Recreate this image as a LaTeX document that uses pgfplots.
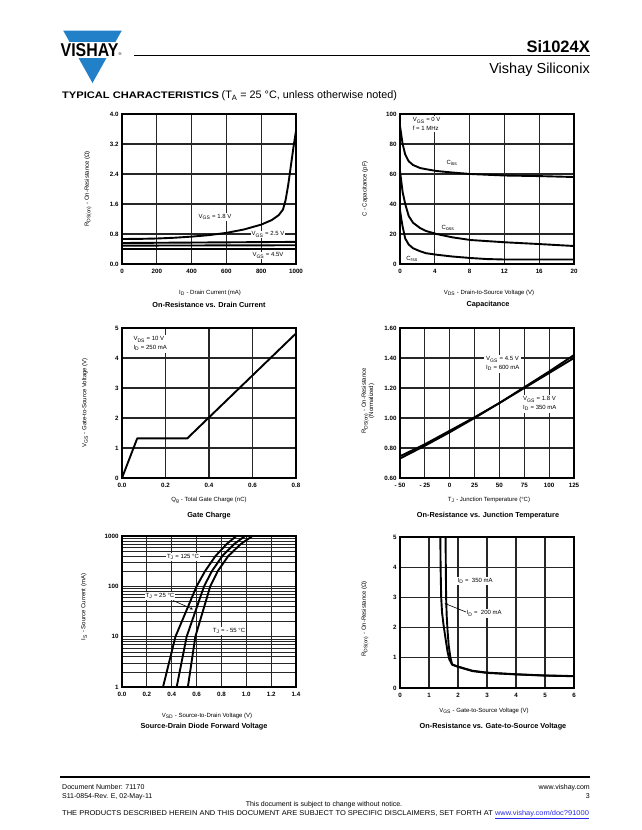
\documentclass[border=0pt]{standalone}
\usepackage{fontspec}
\setmainfont{Liberation Sans}
\usepackage{pgfplots}
\pgfplotsset{compat=1.18}
\usetikzlibrary{arrows.meta}
\definecolor{vblue}{RGB}{33,128,200}
\definecolor{linkblue}{RGB}{40,40,230}
\newcommand{\sub}[1]{\textsubscript{#1}}
\newcommand{\tk}{\fontsize{6.2}{7}\selectfont\bfseries}
\newcommand{\lb}{\fontsize{6}{8.5}\selectfont}
\newcommand{\ttl}{\fontsize{7.3}{9}\selectfont\bfseries}
\pgfplotsset{
  ds/.style={
    scale only axis, width=174pt, height=150pt, anchor=north west,
    axis line style={line width=1.1pt, black},
    grid=major,
    major grid style={line width=1.1pt, black!85},
    minor grid style={line width=0.55pt, black!85},
    tick style={draw=none},
    major tick length=0pt, minor tick length=0pt,
    ticklabel style={font=\tk},
    xticklabel style={yshift=-1.5pt},
    cycle list={{black, line width=1.9pt, mark=none}},
    every axis plot post/.append style={line width=1.9pt, black, mark=none, line join=round},
    /pgf/number format/assume math mode=true,
  }
}
\begin{document}
\begin{tikzpicture}
\path[use as bounding box] (0pt,0pt) rectangle (641pt,-830pt);
% ---------- header ----------
\fill[vblue] (63.3pt,-30.7pt) -- (121.7pt,-30.7pt) -- (92.5pt,-83pt) -- cycle;
\fill[white] (55pt,-41.5pt) rectangle (125pt,-58pt);
\node[anchor=west, inner sep=0pt, font=\fontsize{18.5}{18}\selectfont\bfseries] at (60.5pt,-49.9pt) {\scalebox{0.86}[1]{VISHAY}};
\node[anchor=west, inner sep=0pt, font=\fontsize{4}{4}\selectfont] at (118.5pt,-54pt) {®};
\draw[line width=0.8pt] (134pt,-55pt) -- (590pt,-55pt);
\node[anchor=base east, inner sep=0pt, font=\fontsize{16.5}{16}\selectfont\bfseries] at (590pt,-52.5pt) {Si1024X};
\node[anchor=base east, inner sep=0pt, font=\fontsize{14.5}{15}\selectfont] at (590pt,-73pt) {Vishay Siliconix};
\node[anchor=base west, inner sep=0pt] at (62pt,-98.5pt) {\fontsize{9.5}{11}\selectfont\bfseries\scalebox{1.17}[1]{TYPICAL CHARACTERISTICS}\ \fontsize{10.8}{12}\mdseries (T\sub{A} = 25 °C, unless otherwise noted)};

% ---------- Plot 1: On-Resistance vs Drain Current ----------
\begin{axis}[ds, at={(122pt,-114pt)},
  xmin=0, xmax=1000, ymin=0, ymax=4,
  xtick={0,200,400,600,800,1000}, xticklabels={0,200,400,600,800,1000},
  ytick={0,0.8,1.6,2.4,3.2,4.0}, yticklabels={0.0,0.8,1.6,2.4,3.2,4.0}]
\addplot coordinates {(0,0.667)(100,0.67)(200,0.68)(300,0.70)(400,0.73)(500,0.77)(600,0.83)(700,0.92)(800,1.05)(860,1.17)(900,1.30)(925,1.45)(940,1.70)(955,2.10)(970,2.60)(985,3.10)(1000,3.55)};
\addplot coordinates {(0,0.56)(500,0.575)(1000,0.59)};
\addplot coordinates {(0,0.49)(500,0.495)(1000,0.50)};
\addplot coordinates {(0,0.41)(500,0.41)(1000,0.41)};
\end{axis}
\node[fill=white, inner sep=1pt, font=\lb] at (215pt,-217pt) {V\sub{GS} = 1.8 V};
\node[fill=white, inner sep=1pt, font=\lb] at (268pt,-234.5pt) {V\sub{GS} = 2.5 V};
\node[fill=white, inner sep=1pt, font=\lb] at (268pt,-255.5pt) {V\sub{GS} = 4.5V};
\node[font=\lb] at (210pt,-292.7pt) {I\sub{D} - Drain Current (mA)};
\node[font=\ttl] at (209pt,-305pt) {On-Resistance vs. Drain Current};
\node[font=\lb, rotate=90] at (88pt,-189pt) {R\sub{DS(on)} - On-Resistance (Ω)};

% ---------- Plot 2: Capacitance ----------
\begin{axis}[ds, at={(400pt,-114pt)},
  xmin=0, xmax=20, ymin=0, ymax=100,
  xtick={0,4,8,12,16,20}, xticklabels={0,4,8,12,16,20},
  ytick={0,20,40,60,80,100}, yticklabels={0,20,40,60,80,100}]
\addplot coordinates {(0,92)(0.1,88)(0.3,80)(0.6,73)(1,68.5)(1.5,66)(2.3,64)(3,63.2)(4.2,62)(6,61)(8.1,60)(12,59)(16,58.6)(20,58)};
\addplot coordinates {(0,62)(0.15,55)(0.3,48)(0.6,40)(1,32)(1.5,27.5)(2.3,24)(3,22)(4.2,20)(6,17.8)(8.1,16)(12,14.5)(16,13.3)(20,12)};
\addplot coordinates {(0,36)(0.15,30)(0.3,25)(0.6,17)(1,13)(1.5,10.5)(2.3,8.5)(3,7.2)(4.2,6.2)(6,5)(8.1,4)(10,3.3)(12,3)(16,3)(20,3)};
\end{axis}
\node[anchor=north west, fill=white, inner sep=2pt, align=left, font=\lb] at (410.7pt,-115.5pt) {V\sub{GS} = 0 V\\f = 1 MHz};
\node[font=\lb] at (452pt,-163pt) {C\sub{iss}};
\node[font=\lb] at (448pt,-228pt) {C\sub{oss}};
\node[font=\lb] at (412pt,-259pt) {C\sub{rss}};
\node[font=\lb] at (489pt,-292.7pt) {V\sub{DS} - Drain-to-Source Voltage (V)};
\node[font=\ttl] at (488pt,-305pt) {Capacitance};
\node[font=\lb, rotate=90] at (365pt,-189pt) {C - Capacitance (pF)};

% ---------- Plot 3: Gate Charge ----------
\begin{axis}[ds, at={(122pt,-328pt)},
  xmin=0, xmax=0.8, ymin=0, ymax=5,
  xtick={0,0.2,0.4,0.6,0.8}, xticklabels={0.0,0.2,0.4,0.6,0.8},
  ytick={0,1,2,3,4,5}, yticklabels={0,1,2,3,4,5}]
\addplot coordinates {(0,0)(0.07,1.32)(0.30,1.32)(0.80,4.82)};
\end{axis}
\node[anchor=north west, fill=white, inner sep=2pt, align=left, font=\lb] at (131.3pt,-334.5pt) {V\sub{DS} = 10 V\\I\sub{D} = 250 mA};
\node[font=\lb] at (209pt,-500pt) {Q\sub{g} - Total Gate Charge (nC)};
\node[font=\ttl] at (209pt,-516pt) {Gate Charge};
\node[font=\lb, rotate=90] at (85pt,-403pt) {V\sub{GS} - Gate-to-Source Voltage (V)};

% ---------- Plot 4: On-Resistance vs Junction Temperature ----------
\begin{axis}[ds, at={(400pt,-328pt)},
  xmin=-50, xmax=125, ymin=0.6, ymax=1.6,
  xtick={-50,-25,0,25,50,75,100,125}, xticklabels={- 50,- 25,0,25,50,75,100,125},
  ytick={0.6,0.8,1.0,1.2,1.4,1.6}, yticklabels={0.60,0.80,1.00,1.20,1.40,1.60}]
\addplot coordinates {(-50,0.73)(-25,0.815)(0,0.905)(25,1.0)(50,1.10)(75,1.205)(100,1.31)(125,1.42)};
\addplot coordinates {(-50,0.745)(-25,0.825)(0,0.915)(25,1.005)(50,1.10)(75,1.20)(100,1.30)(125,1.40)};
\end{axis}
\node[anchor=west, fill=white, inner sep=2pt, align=left, font=\lb] at (484pt,-363.8pt) {V\sub{GS} = 4.5 V\\I\sub{D} = 600 mA};
\node[anchor=west, fill=white, inner sep=2pt, align=left, font=\lb] at (521pt,-403.8pt) {V\sub{GS} = 1.8 V\\I\sub{D} = 350 mA};
\node[font=\lb] at (489pt,-500pt) {T\sub{J} - Junction Temperature (°C)};
\node[font=\ttl] at (488pt,-516pt) {On-Resistance vs. Junction Temperature};
\node[font=\fontsize{6}{7.2}\selectfont, rotate=90, align=center] at (368pt,-401pt) {R\sub{DS(on)} - On-Resistance\\(Normalized)};

% ---------- Plot 5: Source-Drain Diode Forward Voltage ----------
\begin{axis}[ds, at={(122pt,-536pt)}, height=151pt,
  ymode=log, xmin=0, xmax=1.4, ymin=1, ymax=1000,
  grid=both,
  xtick={0,0.2,0.4,0.6,0.8,1.0,1.2,1.4}, xticklabels={0.0,0.2,0.4,0.6,0.8,1.0,1.2,1.4},
  ytick={1,10,100,1000}, yticklabels={1,10,100,1000},
  minor ytick={2,3,4,5,6,7,8,9,20,30,40,50,60,70,80,90,200,300,400,500,600,700,800,900}]
\addplot coordinates {(0.33,1)(0.43,10)(0.60,100)(0.668,200)(0.752,400)(0.844,700)(0.92,1000)};
\addplot coordinates {(0.44,1)(0.52,10)(0.66,100)(0.723,200)(0.807,400)(0.905,700)(0.99,1000)};
\addplot coordinates {(0.53,1)(0.59,10)(0.71,100)(0.77,200)(0.855,400)(0.958,700)(1.05,1000)};
\end{axis}
\node[fill=white, inner sep=1pt, font=\lb] at (183pt,-557pt) {T\sub{J} = 125 °C};
\node[fill=white, inner sep=1pt, font=\lb] at (160pt,-596pt) {T\sub{J} = 25 °C};
\draw[line width=0.6pt, -{Stealth[length=3pt,width=2.5pt]}] (173pt,-600.5pt) -- (193pt,-609.3pt);
\node[fill=white, inner sep=1pt, font=\lb] at (229pt,-631pt) {T\sub{J} = - 55 °C};
\node[font=\lb] at (207pt,-715.7pt) {V\sub{SD} - Source-to-Drain Voltage (V)};
\node[font=\ttl] at (204pt,-727pt) {Source-Drain Diode Forward Voltage};
\node[font=\lb, rotate=90] at (84pt,-607pt) {I\sub{S} - Source Current (mA)};

% ---------- Plot 6: On-Resistance vs Gate-to-Source Voltage ----------
\begin{axis}[ds, at={(400pt,-537pt)}, height=151pt,
  xmin=0, xmax=6, ymin=0, ymax=5,
  xtick={0,1,2,3,4,5,6}, xticklabels={0,1,2,3,4,5,6},
  ytick={0,1,2,3,4,5}, yticklabels={0,1,2,3,4,5}]
\addplot coordinates {(1.39,5.1)(1.40,4.0)(1.42,3.0)(1.45,2.5)(1.50,2.1)(1.56,1.7)(1.64,1.2)(1.70,0.95)(1.80,0.77)(2.0,0.70)(2.5,0.56)(3.0,0.50)(4.0,0.45)(5.0,0.41)(6.0,0.39)};
\addplot coordinates {(1.57,5.1)(1.58,4.0)(1.59,3.0)(1.61,2.4)(1.64,1.9)(1.68,1.4)(1.74,1.0)(1.80,0.78)(2.0,0.71)(2.5,0.57)(3.0,0.51)(4.0,0.455)(5.0,0.415)(6.0,0.395)};
\end{axis}
\node[anchor=west, fill=white, inner sep=1.5pt, font=\lb] at (456pt,-581pt) {I\sub{D} = \ 350 mA};
\node[anchor=west, fill=white, inner sep=1.5pt, font=\lb] at (465pt,-613.3pt) {I\sub{D} = \ 200 mA};
\draw[line width=0.6pt, -{Stealth[length=3pt,width=2.5pt]}] (466pt,-612pt) -- (444.5pt,-603.3pt);
\node[font=\lb] at (484pt,-710.7pt) {V\sub{GS} - Gate-to-Source Voltage (V)};
\node[font=\ttl] at (493pt,-727pt) {On-Resistance vs. Gate-to-Source Voltage};
\node[font=\lb, rotate=90] at (365pt,-619pt) {R\sub{DS(on)} - On-Resistance (Ω)};

% ---------- footer ----------
\draw[line width=1.6pt] (60pt,-777pt) -- (590pt,-777pt);
\begin{scope}[every node/.style={inner sep=0pt, font=\fontsize{7}{8}\selectfont}]
\node[anchor=base west] at (62pt,-789pt) {Document Number: 71170};
\node[anchor=base west] at (62pt,-798pt) {S11-0854-Rev. E, 02-May-11};
\node[anchor=base east] at (590pt,-789pt) {www.vishay.com};
\node[anchor=base east] at (590pt,-798pt) {3};
\node[anchor=base] at (324pt,-806.5pt) {This document is subject to change without notice.};
\node[anchor=base west] at (62pt,-815pt) {\scalebox{1.07}[1]{THE PRODUCTS DESCRIBED HEREIN AND THIS DOCUMENT ARE SUBJECT TO SPECIFIC DISCLAIMERS, SET FORTH AT \textcolor{linkblue}{\underline{www.vishay.com/doc?91000}}}};
\end{scope}
\end{tikzpicture}
\end{document}
